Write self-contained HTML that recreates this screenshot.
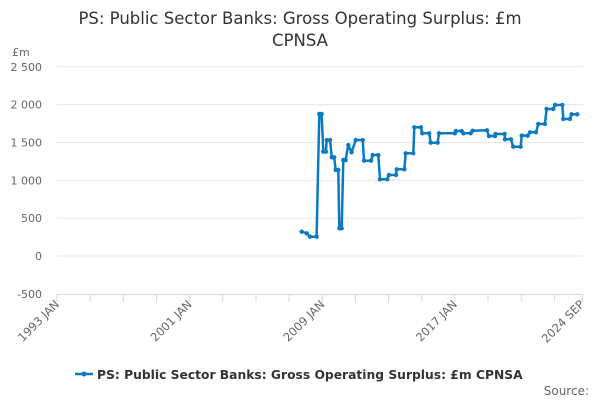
<!DOCTYPE html>
<html><head><meta charset="utf-8"><style>
body{margin:0;width:600px;height:400px;overflow:hidden;background:#fff;font-family:"Liberation Sans","DejaVu Sans",sans-serif}
</style></head><body>
<svg width="600" height="400" id="c" style="font-family:'DejaVu Sans','Liberation Sans',sans-serif">
<text x="300" y="24" text-anchor="middle" font-size="16.5" fill="#333">PS: Public Sector Banks: Gross Operating Surplus: £m<tspan x="300" y="46">CPNSA</tspan></text>
<text x="12" y="56" font-size="11" fill="#666">£m</text>
<g id="grid"></g><g id="xax"></g><g id="series"></g>
<g>
<line x1="75" y1="374" x2="93" y2="374" stroke="#0a7ac2" stroke-width="2.5"/><circle cx="84" cy="374" r="2.5" fill="#0a7ac2"/>
<text x="97" y="379" font-size="12.3" font-weight="bold" fill="#333">PS: Public Sector Banks: Gross Operating Surplus: £m CPNSA</text></g>
<text x="589" y="395" text-anchor="end" font-size="12" fill="#666">Source:</text>
</svg>
<script>
const yTicks=[2500,2000,1500,1000,500,0,-500];
const yTickLabels=["2 500","2 000","1 500","1 000","500","0","-500"];
const xTickLabels=["1993 JAN","2001 JAN","2009 JAN","2017 JAN","2024 SEP"];
const xTickDates=[1993,2001,2009,2017,2024.667];
const dates=[2007.76,2008.06,2008.26,2008.66,2008.82,2008.96,2009.06,2009.22,2009.27,2009.47,2009.57,2009.72,2009.81,2009.97,2010.03,2010.17,2010.27,2010.41,2010.57,2010.77,2011.02,2011.44,2011.52,2011.94,2012.04,2012.38,2012.48,2012.92,2013.02,2013.45,2013.49,2013.95,2014.03,2014.49,2014.55,2014.95,2015.03,2015.45,2015.54,2015.96,2016.04,2017.00,2017.06,2017.41,2017.51,2017.95,2018.07,2018.93,2019.06,2019.42,2019.45,2020.0,2020.02,2020.38,2020.52,2020.97,2021.03,2021.39,2021.53,2021.89,2022.03,2022.43,2022.53,2022.93,2023.04,2023.48,2023.54,2023.94,2024.04,2024.38];
const values=[321,300,255,255,1876,1876,1378,1378,1532,1532,1304,1304,1136,1136,366,366,1268,1268,1466,1370,1532,1532,1259,1259,1334,1334,1013,1013,1070,1070,1145,1145,1357,1357,1700,1700,1621,1621,1497,1497,1621,1621,1651,1651,1621,1621,1655,1660,1585,1585,1612,1612,1541,1541,1444,1444,1590,1590,1634,1634,1744,1744,1942,1942,1995,1995,1810,1810,1872,1872];
const X0=57,X1=582,D0=1993,D1=2024.667,Y0=256,PX=75.7/1000;
const xs=d=>X0+(d-D0)/(D1-D0)*(X1-X0);
const ys=v=>Y0-v*PX;
const NS="http://www.w3.org/2000/svg";
function mk(t,a,p){const e=document.createElementNS(NS,t);for(const k in a)e.setAttribute(k,a[k]);p.appendChild(e);return e;}
const grid=document.getElementById('grid'),xax=document.getElementById('xax'),ser=document.getElementById('series');
yTicks.forEach((v,i)=>{
 if(v!==-500){const l=mk('line',{x1:57,x2:583,y1:ys(v),y2:ys(v),stroke:'#e6e6e6'},grid);
 
 }
 const t=mk('text',{x:42,y:ys(v)+4,'text-anchor':'end','font-size':11,fill:'#666'},grid);t.textContent=yTickLabels[i];
 
 
});
const ax=mk('line',{x1:57,x2:583,y1:294.5,y2:294.5,stroke:'#ccd6eb'},xax);


for(let y=1993;y<=2025;y+=2){const x=Math.min(xs(y),582.5);const tk=mk('line',{x1:x,x2:x,y1:294,y2:302,stroke:'#ccd6eb'},xax);
 
 }
xTickLabels.forEach((s,i)=>{const x=xs(xTickDates[i]);
 const t=mk('text',{x:x+3,y:305,'text-anchor':'end','font-size':11.5,fill:'#666',transform:`rotate(-45 ${x+3} 305)`},xax);t.textContent=s;
 
 });
const pts=dates.map((d,i)=>xs(d).toFixed(1)+','+ys(values[i]).toFixed(1)).join(' ');
const pl=mk('polyline',{points:pts,fill:'none',stroke:'#0a7ac2','stroke-width':2.5,'stroke-linejoin':'round'},ser);


dates.forEach((d,i)=>{const c=mk('circle',{cx:xs(d),cy:ys(values[i]),r:2.2,fill:'#0a7ac2'},ser);
 
 });
</script>
</body></html>
